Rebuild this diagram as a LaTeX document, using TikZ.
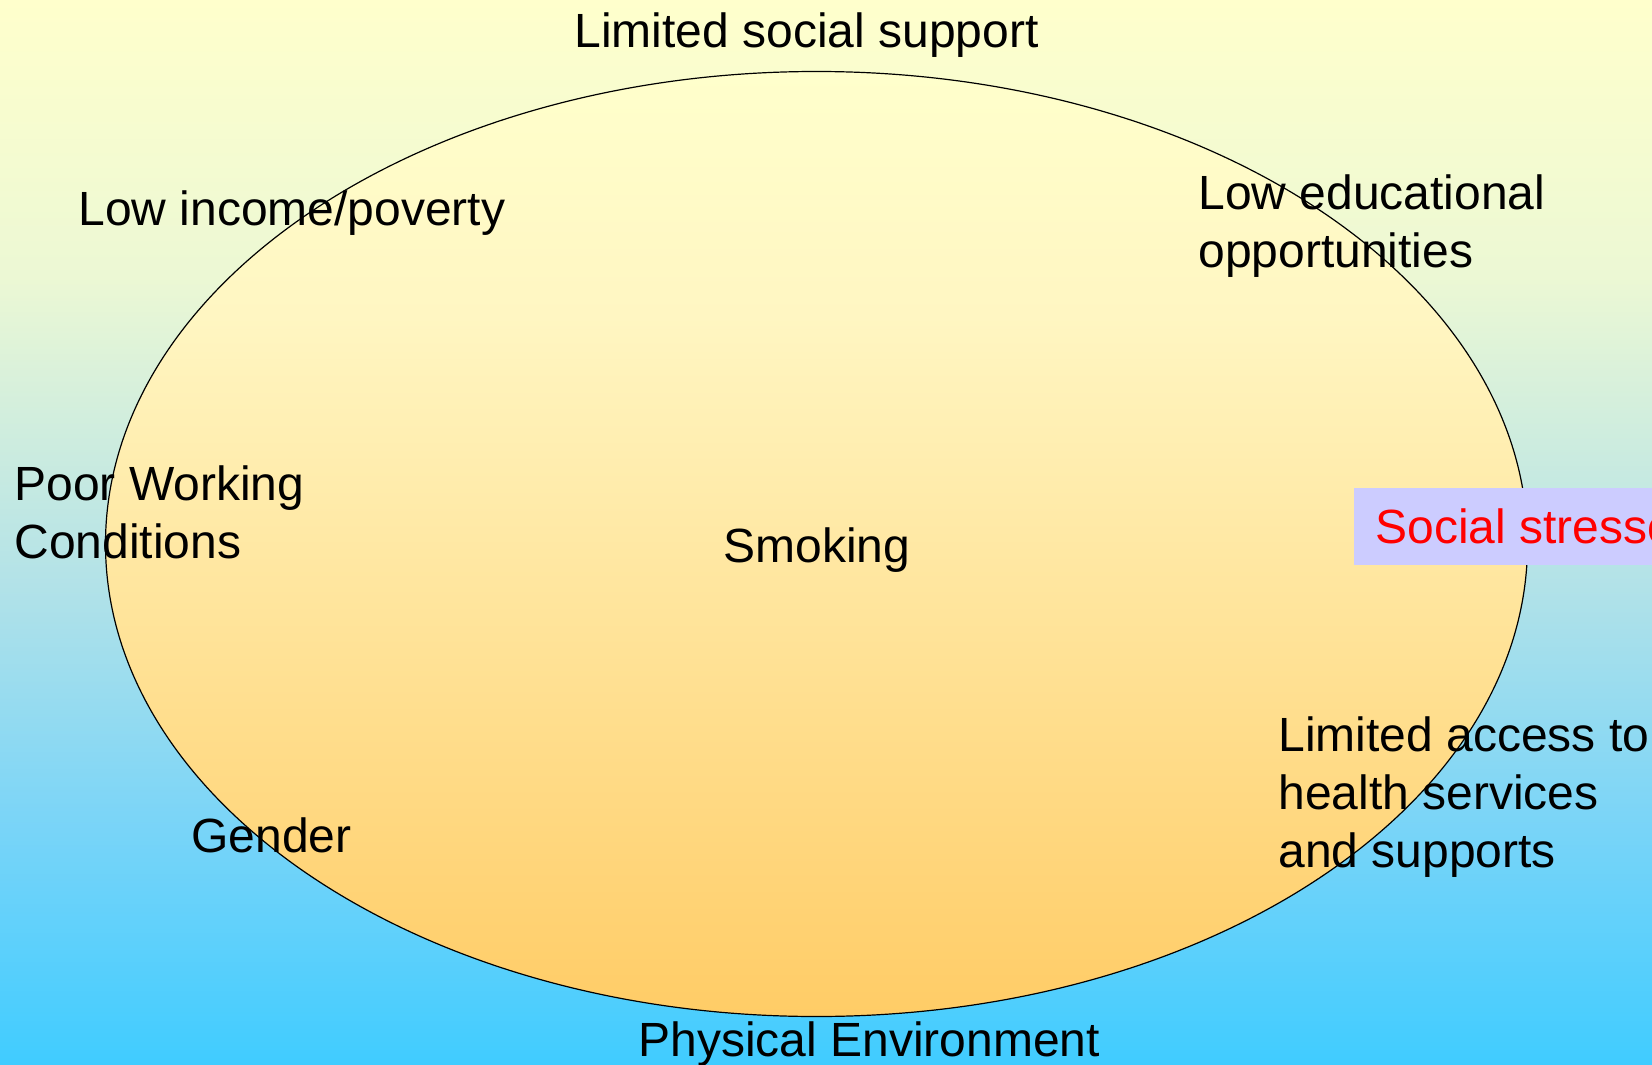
\documentclass[tikz,border=0pt]{standalone}
\usepackage{fontspec}
\setmainfont{Liberation Sans}
\definecolor{paleyellow}{HTML}{FFFFCC}
\definecolor{skyblue}{HTML}{40CCFF}
\definecolor{softorange}{HTML}{FFCC66}
\definecolor{lavender}{HTML}{CCCCFF}
\pgfdeclareverticalshading{skyfade}{100bp}{color(0bp)=(skyblue); color(25bp)=(skyblue);
	color(36bp)=(rgb,255:red,120;green,212;blue,248); color(47.5bp)=(rgb,255:red,178;green,226;blue,232);
	color(62bp)=(rgb,255:red,236;green,248;blue,212); color(75bp)=(paleyellow); color(100bp)=(paleyellow)}
\pgfdeclareverticalshading{orangefade}{100bp}{color(0bp)=(softorange); color(25bp)=(softorange);
	color(62bp)=(rgb,255:red,255;green,246;blue,194); color(75bp)=(paleyellow); color(100bp)=(paleyellow)}
\tikzset{factor/.style={anchor=west, inner sep=0pt, align=left, font=\fontsize{24}{29}\selectfont},
	stressor/.style={factor, fill=lavender, text=red, minimum height=38.5pt, inner xsep=10.5pt}}

\begin{document}
\begin{tikzpicture}[x=0.5pt, y=-0.5pt]
	\useasboundingbox (0,0) rectangle (1652,1064);
	\clip (0,0) rectangle (1652,1064);
	\shade[shading=skyfade] (0,0) rectangle (1652,1064);
	\shadedraw[shading=orangefade, draw=black, line width=0.6pt]
		(816.5,544) ellipse [x radius=711, y radius=472.5];
	\node[factor, anchor=center] (smoking) at (817,550) {Smoking};
	\node[factor] (support) at (574,35) {Limited social support};
	\node[factor] (income) at (78,213) {Low income/poverty};
	\node[factor] (education) at (1198,226) {Low educational\\opportunities};
	\node[factor] (working) at (14,512) {Poor Working\\Conditions};
	\node[stressor] (stress) at (1354,526.5) {Social stressors};
	\node[factor] (access) at (1278,797) {Limited access to\\health services\\and supports};
	\node[factor] (gender) at (191,835) {Gender};
	\node[factor] (environment) at (638,1044) {Physical Environment};
\end{tikzpicture}
\end{document}
